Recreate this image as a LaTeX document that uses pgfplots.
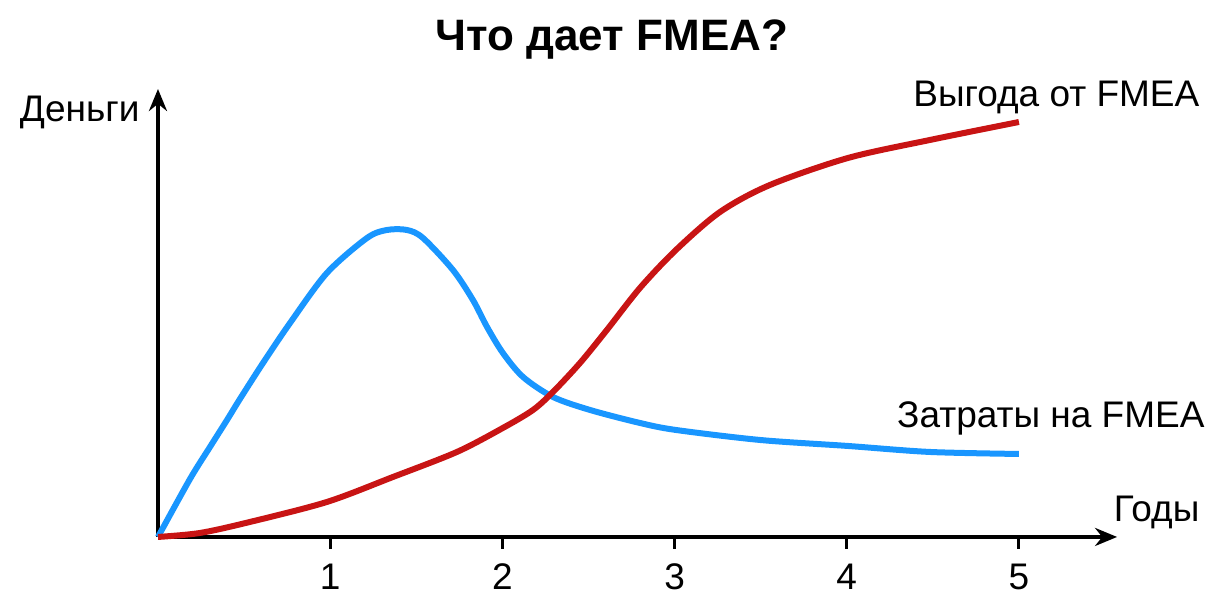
\documentclass[border=0pt]{standalone}
\usepackage{pgfplots}
\pgfplotsset{compat=1.18}
\usepackage{fontspec}
\setmainfont{Liberation Sans}
\usetikzlibrary{arrows.meta}
\definecolor{cblue}{RGB}{25,150,255}
\definecolor{cred}{RGB}{200,20,20}
\begin{document}
\begin{tikzpicture}
\begin{axis}[
  x=86.1pt, y=50pt,
  xmin=0, xmax=5.57, ymin=0, ymax=4.48,
  axis lines=left,
  axis line style={line width=2.4pt, -{Stealth[length=11pt,width=9pt]}},
  xtick={1,2,3,4,5}, xticklabels={1,2,3,4,5},
  ytick=\empty,
  tick align=outside,
  major tick length=6pt,
  every tick/.style={line width=1.5pt, black},
  xticklabel style={font=\fontsize{18.5}{21}\selectfont, yshift=-4pt},
  clip=false,
  font=\fontsize{18.5}{21}\selectfont,
]
\addplot[cblue, line width=3pt, smooth, tension=0.5] coordinates {
(0,0) (0.186,0.58) (0.302,0.90) (0.401,1.17) (0.476,1.38) (0.610,1.74) (0.767,2.14)
(0.981,2.64) (1.214,2.99) (1.330,3.07) (1.446,3.07) (1.539,2.99)
(1.713,2.67) (1.829,2.37) (1.911,2.10) (2.003,1.84) (2.120,1.60)
(2.294,1.40) (2.509,1.27) (2.799,1.14) (3.008,1.07) (3.496,0.97)
(4.007,0.91) (4.483,0.85) (5.0,0.83)
};
\addplot[cred, line width=3pt, smooth, tension=0.5] coordinates {
(0,0) (0.244,0.04) (0.534,0.15) (0.981,0.35) (1.365,0.60) (1.736,0.85)
(2.003,1.09) (2.178,1.27) (2.294,1.45) (2.451,1.74) (2.607,2.07)
(2.799,2.49) (3.008,2.87) (3.264,3.25) (3.554,3.52) (4.007,3.79)
(4.483,3.97) (5.0,4.15)
};
\node[anchor=east, inner sep=0pt] at (axis cs:-0.105,4.25) {Деньги};
\node[anchor=east, inner sep=0pt] at (axis cs:6.05,0.25) {Годы};
\node[anchor=east, inner sep=0pt] at (axis cs:6.05,4.40) {Выгода от FMEA};
\node[anchor=east, inner sep=0pt] at (axis cs:6.08,1.19) {Затраты на FMEA};
\node[inner sep=0pt, font=\fontsize{22}{25}\selectfont\bfseries] at (axis cs:2.636,4.97) {Что дает FMEA?};
\coordinate (bl) at (axis cs:-0.9175,-0.60);
\coordinate (tr) at (axis cs:6.1155,5.37);
\end{axis}
\pgfresetboundingbox
\useasboundingbox (bl) rectangle (tr);
\end{tikzpicture}
\end{document}
